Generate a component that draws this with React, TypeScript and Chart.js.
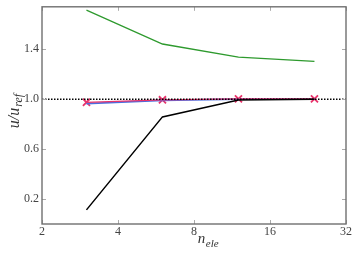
import React, { useEffect, useRef } from "react";
import { Chart, registerables } from "chart.js";

Chart.register(...registerables);

const xValues = [3, 6, 12, 24];
const greenValues = [1.713, 1.442, 1.337, 1.303];
const blackValues = [0.113, 0.858, 0.993, 1.0];
const blueValues = [0.965, 0.99, 1.0, 1.0];
const redValues = [0.975, 0.995, 1.003, 1.003];
const refX = [2, 32];
const refValues = [1.0, 1.0];
const xTicks = [2, 4, 8, 16, 32];
const yTicks = [0.2, 0.6, 1.0, 1.4];

const FONT = "'Liberation Serif', 'DejaVu Serif', serif";

const pts = (xs: number[], ys: number[]) => xs.map((x, i) => ({ x, y: ys[i] }));

const framePlugin = {
  id: "frame",
  afterDraw(chart: any) {
    const { ctx, chartArea: a, scales } = chart;
    ctx.save();
    // inward ticks
    ctx.strokeStyle = "#aaa";
    ctx.lineWidth = 1;
    ctx.beginPath();
    xTicks.forEach((v) => {
      const px = Math.round(scales.x.getPixelForValue(v)) + 0.5;
      ctx.moveTo(px, a.bottom);
      ctx.lineTo(px, a.bottom - 4);
      ctx.moveTo(px, a.top);
      ctx.lineTo(px, a.top + 4);
    });
    yTicks.forEach((v) => {
      const py = Math.round(scales.y.getPixelForValue(v)) + 0.5;
      ctx.moveTo(a.left, py);
      ctx.lineTo(a.left + 4, py);
      ctx.moveTo(a.right, py);
      ctx.lineTo(a.right - 4, py);
    });
    ctx.stroke();
    // frame
    ctx.strokeStyle = "#707070";
    ctx.lineWidth = 1.4;
    ctx.strokeRect(a.left, a.top, a.right - a.left, a.bottom - a.top);

    // axis titles
    ctx.fillStyle = "#333";
    ctx.textBaseline = "alphabetic";
    // x title: n_ele
    const mainX = `italic 15px ${FONT}`;
    const subX = `italic 11px ${FONT}`;
    ctx.font = mainX;
    const wn = ctx.measureText("n").width;
    ctx.font = subX;
    const we = ctx.measureText("ele").width;
    const cx = 208;
    const sx = cx - (wn + we) / 2;
    ctx.font = mainX;
    ctx.textAlign = "left";
    ctx.fillText("n", sx, 243);
    ctx.font = subX;
    ctx.fillText("ele", sx + wn + 0.5, 247);

    // y title: u/u_ref
    ctx.translate(18.5, 111);
    ctx.rotate(-Math.PI / 2);
    const mainY = `italic 16px ${FONT}`;
    const subY = `italic 12px ${FONT}`;
    ctx.font = mainY;
    const wu = ctx.measureText("u/u").width;
    ctx.font = subY;
    const wr = ctx.measureText("ref").width;
    const total = wu + wr + 1;
    const y0 = -total / 2;
    ctx.font = mainY;
    ctx.fillText("u/u", y0, 0);
    ctx.font = subY;
    ctx.fillText("ref", y0 + wu + 1, 3.5);
    ctx.restore();
  },
};

export default function App() {
  const ref = useRef<HTMLCanvasElement | null>(null);
  useEffect(() => {
    if (!ref.current) return;
    const chart = new Chart(ref.current, {
      type: "line",
      data: {
        datasets: [
          {
            data: pts(refX, refValues),
            borderColor: "#000",
            borderWidth: 1.5,
            borderDash: [1.5, 1.5],
            pointRadius: 0,
          },
          {
            data: pts(xValues, greenValues),
            borderColor: "#2e9a2e",
            borderWidth: 1.3,
            pointRadius: 0,
          },
          {
            data: pts(xValues, blackValues),
            borderColor: "#000",
            borderWidth: 1.5,
            pointRadius: 0,
          },
          {
            data: pts(xValues, redValues),
            borderColor: "#e8336b",
            borderWidth: 1.2,
            pointRadius: 0,
          },
          {
            data: pts(xValues, blueValues),
            borderColor: "#4a6ee0",
            borderWidth: 1.8,
            pointRadius: 0,
          },
          {
            data: pts(xValues, redValues),
            showLine: false,
            borderColor: "#e8336b",
            backgroundColor: "#e8336b",
            pointStyle: "crossRot",
            pointRadius: 5,
            pointBorderWidth: 1.8,
          },
        ],
      },
      options: {
        responsive: false,
        animation: false,
        devicePixelRatio: 1,
        layout: { padding: { top: 4, right: 11, left: 0, bottom: 0 } },
        plugins: {
          legend: { display: false },
          tooltip: { enabled: false },
        },
        scales: {
          x: {
            type: "logarithmic",
            min: 2,
            max: 32,
            afterBuildTicks: (s: any) => {
              s.ticks = xTicks.map((v) => ({ value: v }));
            },
            afterFit: (s: any) => {
              s.height = 30;
              s.paddingLeft = 0;
              s.paddingRight = 0;
            },
            ticks: {
              callback: (v: any) => String(v),
              font: { family: FONT, size: 12 },
              color: "#444",
              padding: 1,
              maxRotation: 0,
              autoSkip: false,
            },
            grid: { display: false, drawTicks: false },
            border: { display: false },
          },
          y: {
            type: "linear",
            min: 0,
            max: 1.74,
            afterBuildTicks: (s: any) => {
              s.ticks = yTicks.map((v) => ({ value: v }));
            },
            afterFit: (s: any) => {
              s.width = 42;
              s.paddingTop = 0;
              s.paddingBottom = 0;
            },
            ticks: {
              callback: (v: any) => Number(v).toFixed(1),
              font: { family: FONT, size: 12 },
              color: "#444",
              padding: 3,
              autoSkip: false,
            },
            grid: { display: false, drawTicks: false },
            border: { display: false },
          },
        },
      },
      plugins: [framePlugin],
    });
    return () => chart.destroy();
  }, []);
  return (
    <div style={{ position: "absolute", left: 0, top: 0, width: 357, height: 254, background: "#fff" }}>
      <canvas ref={ref} width={357} height={254} />
    </div>
  );
}
